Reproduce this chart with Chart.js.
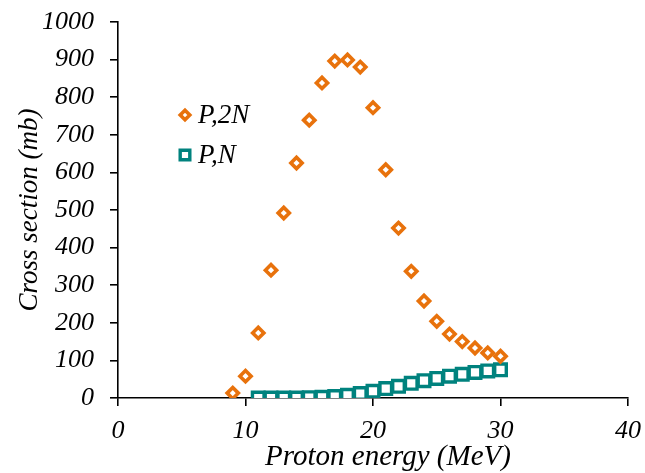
<!DOCTYPE html>
<html lang="en">
<head>
  <meta charset="UTF-8">
  <title>Cross section vs proton energy</title>
  <script src="https://cdn.jsdelivr.net/npm/chart.js"></script>
  <style>
    html, body { margin: 0; padding: 0; background: #fff; overflow: hidden; }
    #wrap { width: 645px; height: 473px; }
  </style>
</head>
<body>
  <div id="wrap"><canvas id="xsChart"></canvas></div>

  <script>
    // (p,2n) channel
    const energy2N = [9, 10, 11, 12, 13, 14, 15, 16, 17, 18, 19, 20, 21, 22, 23, 24, 25, 26, 27, 28, 29, 30];
    const sigma2N  = [13, 58, 173, 340, 492, 625, 739, 838, 896, 899, 880, 772, 607, 452, 337, 258, 204, 170, 150, 133, 120, 111];

    // (p,n) channel
    const energyN = [11, 12, 13, 14, 15, 16, 17, 18, 19, 20, 21, 22, 23, 24, 25, 26, 27, 28, 29, 30];
    const sigmaN  = [0, 0, 0, 0, 1, 2, 4, 7, 12, 18, 25, 31, 39, 46, 52, 58, 63, 68, 72, 75];

    const xTicks = [0, 10, 20, 30, 40];
    const yTicks = [0, 100, 200, 300, 400, 500, 600, 700, 800, 900, 1000];

    const xTitle = 'Proton energy (MeV)';
    const yTitle = 'Cross section (mb)';

    const ORANGE = '#E8720C';
    const TEAL = '#00827E';
    const SERIF = '"Liberation Serif", "Times New Roman", serif';

    const toPoints = (xs, ys) => xs.map((x, i) => ({ x: x, y: ys[i] }));

    // legend sits inside the plot area, drawn by hand
    const innerLegend = {
      id: 'innerLegend',
      afterDatasetsDraw(chart) {
        const ctx = chart.ctx;
        const rows = [
          { ds: chart.data.datasets[0], x: 185, y: 115, r: 4.8 },
          { ds: chart.data.datasets[1], x: 185, y: 155, r: 6.8 }
        ];
        ctx.save();
        rows.forEach(row => {
          ctx.lineWidth = row.ds.pointBorderWidth;
          ctx.strokeStyle = row.ds.borderColor;
          ctx.fillStyle = '#fff';
          Chart.helpers.drawPoint(ctx, { pointStyle: row.ds.pointStyle, radius: row.r, borderWidth: row.ds.pointBorderWidth }, row.x, row.y);
          ctx.fillStyle = '#000';
          ctx.font = 'italic 27px ' + SERIF;
          ctx.textBaseline = 'middle';
          ctx.textAlign = 'left';
          ctx.fillText(row.ds.label, row.x + 13, row.y + 1);
        });
        ctx.restore();
      }
    };

    // x axis title sits a bit right of centre and runs off the bottom edge
    const bottomTitle = {
      id: 'bottomTitle',
      afterDraw(chart) {
        const { ctx, chartArea } = chart;
        ctx.save();
        ctx.fillStyle = '#000';
        ctx.font = 'italic 29px ' + SERIF;
        ctx.textAlign = 'center';
        ctx.textBaseline = 'alphabetic';
        ctx.fillText(xTitle, (chartArea.left + chartArea.right) / 2 + 15, chartArea.bottom + 67);
        ctx.restore();
      }
    };

    const ctx = document.getElementById('xsChart').getContext('2d');
    new Chart(ctx, {
      type: 'scatter',
      data: {
        datasets: [
          {
            label: 'P,2N',
            data: toPoints(energy2N, sigma2N),
            pointStyle: 'rectRot',
            pointRadius: 5.6,
            pointBorderWidth: 3.6,
            borderColor: ORANGE,
            backgroundColor: '#fff',
            order: 1
          },
          {
            label: 'P,N',
            data: toPoints(energyN, sigmaN),
            pointStyle: 'rect',
            pointRadius: 8.2,
            pointBorderWidth: 3.4,
            borderColor: TEAL,
            backgroundColor: '#fff',
            order: 2
          }
        ]
      },
      options: {
        responsive: true,
        maintainAspectRatio: false,
        animation: false,
        layout: { padding: { top: 22, right: 17, left: 0, bottom: 0 } },
        plugins: {
          legend: { display: false },
          tooltip: { enabled: false }
        },
        scales: {
          x: {
            type: 'linear',
            min: 0,
            max: 40,
            afterBuildTicks: axis => { axis.ticks = xTicks.map(v => ({ value: v })); },
            afterFit: axis => {
              axis.height = 75;
              axis.paddingLeft = 0;
              axis.paddingRight = 0;
            },
            border: { color: '#000', width: 1.6 },
            grid: { drawOnChartArea: false, drawTicks: true, tickLength: 8, color: '#000', lineWidth: 1.6 },
            ticks: {
              color: '#000',
              padding: 10,
              maxRotation: 0,
              callback: v => String(v),
              font: { family: SERIF, size: 26, style: 'italic' }
            },
            title: { display: false }
          },
          y: {
            type: 'linear',
            min: 0,
            max: 1000,
            afterBuildTicks: axis => { axis.ticks = yTicks.map(v => ({ value: v })); },
            afterFit: axis => {
              axis.width = 118;
              axis.paddingTop = 0;
              axis.paddingBottom = 0;
            },
            border: { color: '#000', width: 1.6 },
            grid: { drawOnChartArea: false, drawTicks: true, tickLength: 8, color: '#000', lineWidth: 1.6 },
            ticks: {
              color: '#000',
              padding: 16,
              callback: v => String(v),
              font: { family: SERIF, size: 26, style: 'italic' }
            },
            title: {
              display: true,
              text: yTitle,
              color: '#000',
              padding: { top: 14, bottom: 0 },
              font: { family: SERIF, size: 27, style: 'italic' }
            }
          }
        }
      },
      plugins: [innerLegend, bottomTitle]
    });
  </script>
</body>
</html>
